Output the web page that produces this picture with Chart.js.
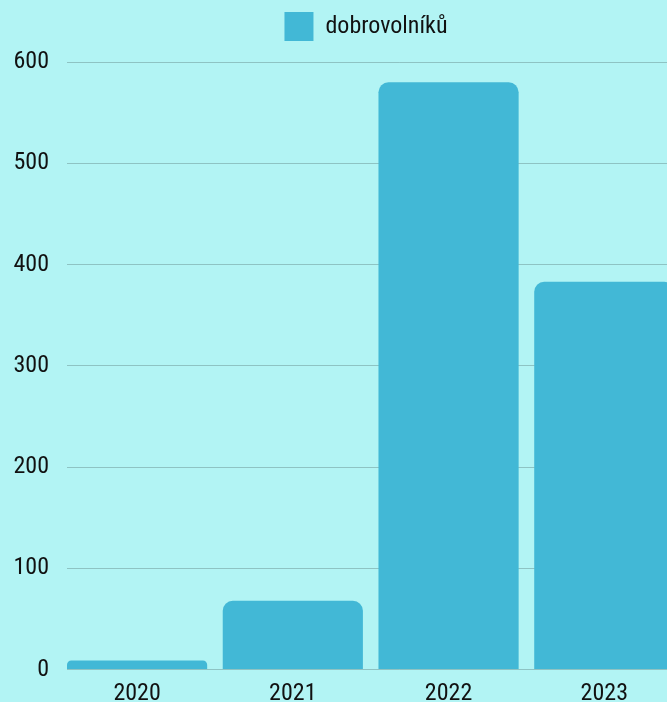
<!DOCTYPE html>
<html>
<head>
<meta charset="utf-8">
<script src="https://cdn.jsdelivr.net/npm/chart.js@4"></script>
<style>
  html, body { margin: 0; padding: 0; overflow: hidden; background: #b2f4f4; }
  #wrap { width: 732px; height: 702px; position: relative; }
</style>
</head>
<body>
<div id="wrap"><canvas id="volChart"></canvas></div>
<script>
const years = [2020, 2021, 2022, 2023];
const volunteers = [9, 68, 580, 383];
const yTicks = [0, 100, 200, 300, 400, 500, 600];

const font = { family: "'Roboto Condensed', 'Liberation Sans Narrow', Roboto, sans-serif", size: 24 };

// extra room under the legend
const legendGap = {
    id: 'legendGap',
    beforeInit(chart) {
        const fit = chart.legend.fit;
        chart.legend.fit = function () {
            fit.call(this);
            this.height += 11;
        };
    }
};

const ctx = document.getElementById('volChart').getContext('2d');
const volChart = new Chart(ctx, {
    type: 'bar',
    data: {
        labels: years,
        datasets: [{
            label: 'dobrovolníků',
            data: volunteers,
            backgroundColor: '#42b8d6',
            borderWidth: 0,
            borderRadius: 10,
            categoryPercentage: 1,
            barPercentage: 0.9
        }]
    },
    options: {
        responsive: true,
        maintainAspectRatio: false,
        animation: false,
        layout: { padding: 0 },
        plugins: {
            legend: {
                labels: {
                    color: '#111',
                    font: font,
                    boxWidth: 29,
                    boxHeight: 29,
                    padding: 12
                }
            },
            tooltip: { enabled: false }
        },
        scales: {
            x: {
                type: 'linear',
                offset: false,
                min: years[0] - 0.45,
                max: years[years.length - 1] + 0.82,
                grid: { display: false },
                border: { display: false },
                afterFit: (s) => { s.height = 32; },
                ticks: {
                    stepSize: 1,
                    includeBounds: false,
                    color: '#111',
                    font: font,
                    padding: 2,
                    callback: (v) => years.includes(v) ? String(v) : ''
                }
            },
            y: {
                min: 0,
                max: yTicks[yTicks.length - 1],
                afterFit: (s) => { s.width = 67; },
                afterBuildTicks: (s) => { s.ticks = yTicks.map(v => ({ value: v })); },
                grid: { color: 'rgba(0,0,0,0.2)', drawTicks: false },
                border: { display: false },
                ticks: {
                    color: '#111',
                    font: font,
                    padding: 18
                }
            }
        }
    },
    plugins: [legendGap]
});
</script>
</body>
</html>
